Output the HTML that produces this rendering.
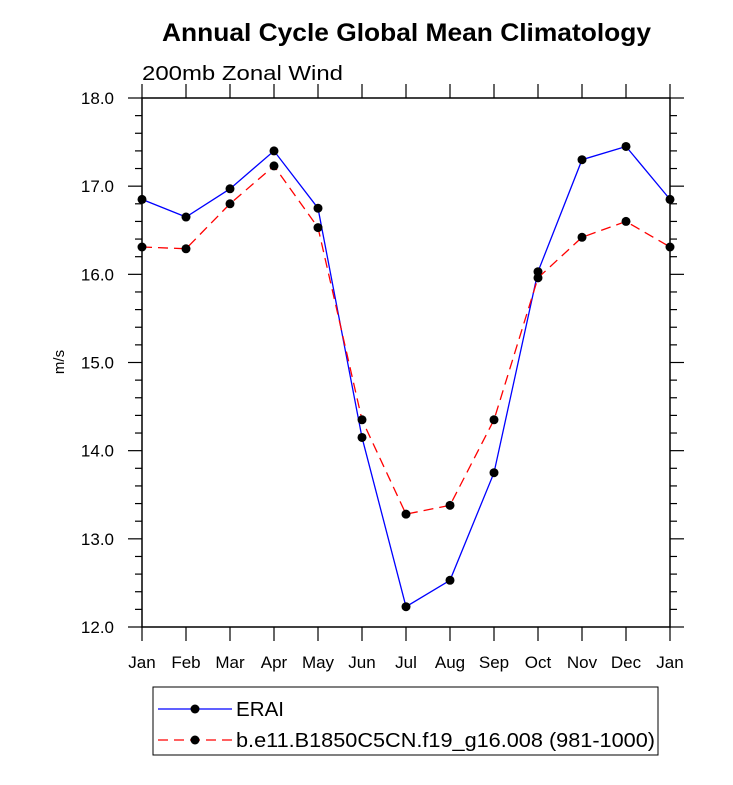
<!DOCTYPE html>
<html><head><meta charset="utf-8"><style>
body{margin:0;background:#fff;}
text{font-family:"Liberation Sans",sans-serif;}
</style></head><body>
<svg id="chart" width="733" height="780" xmlns="http://www.w3.org/2000/svg">
<text x="162" y="41" font-size="25" font-weight="bold" textLength="489" lengthAdjust="spacingAndGlyphs">Annual Cycle Global Mean Climatology</text>
<text x="142" y="80" font-size="20" textLength="201" lengthAdjust="spacingAndGlyphs">200mb Zonal Wind</text>
<text transform="translate(64,362) rotate(-90)" text-anchor="middle" font-size="15">m/s</text>
<g id="axes"></g>
<g id="series"></g>
<g>
<rect x="153" y="687" width="505" height="68" fill="none" stroke="#000" stroke-width="1"/>
<line x1="158" y1="709" x2="232" y2="709" stroke="#0000ff" stroke-width="1.3"/>
<circle cx="195" cy="709" r="4.5" fill="#000"/>
<text x="236" y="716" font-size="20" textLength="48" lengthAdjust="spacingAndGlyphs">ERAI</text>
<line x1="158" y1="740" x2="232" y2="740" stroke="#ff0000" stroke-width="1.3" stroke-dasharray="10,6"/>
<circle cx="195" cy="740" r="4.5" fill="#000"/>
<text x="236" y="747" font-size="20" textLength="419" lengthAdjust="spacingAndGlyphs">b.e11.B1850C5CN.f19_g16.008 (981-1000)</text>
</g>
</svg>
<script>
const months=["Jan","Feb","Mar","Apr","May","Jun","Jul","Aug","Sep","Oct","Nov","Dec","Jan"];
const erai=[16.85,16.65,16.97,17.40,16.75,14.15,12.23,12.53,13.75,16.03,17.30,17.45,16.85];
const model=[16.31,16.29,16.80,17.23,16.53,14.35,13.28,13.38,14.35,15.96,16.42,16.60,16.31];
const yTicks=[12,13,14,15,16,17,18];
const yTickLabels=["12.0","13.0","14.0","15.0","16.0","17.0","18.0"];
const L=142,R=670,T=98,B=627,ymin=12,ymax=18;
const xs=i=>L+(R-L)*i/(months.length-1);
const ys=v=>B-(v-ymin)/(ymax-ymin)*(B-T);
const NS="http://www.w3.org/2000/svg";
function mk(tag,attrs,parent){const e=document.createElementNS(NS,tag);for(const k in attrs)e.setAttribute(k,attrs[k]);parent.appendChild(e);return e;}
const ax=document.getElementById('axes');
const frame=mk('rect',{x:L,y:T,width:R-L,height:B-T,fill:'none',stroke:'#000','stroke-width':1.5},ax);


months.forEach((m,i)=>{
  const x=xs(i);
  mk('line',{x1:x,y1:B,x2:x,y2:B+14,stroke:'#000','stroke-width':1.2},ax);
  mk('line',{x1:x,y1:T,x2:x,y2:T-14,stroke:'#000','stroke-width':1.2},ax);
  const t=mk('text',{x:x,y:B+41,'text-anchor':'middle','font-size':17},ax);
  t.textContent=m;
  
  
});
for(let v=ymin;v<=ymax+1e-9;v+=0.2){
  const y=ys(v);const major=Math.abs(v-Math.round(v))<1e-6;const len=major?14:7;
  mk('line',{x1:L,y1:y,x2:L-len,y2:y,stroke:'#000','stroke-width':1.2},ax);
  mk('line',{x1:R,y1:y,x2:R+len,y2:y,stroke:'#000','stroke-width':1.2},ax);
}
yTicks.forEach((v,i)=>{
  const t=mk('text',{x:L-28,y:ys(v)+6,'text-anchor':'end','font-size':17},ax);
  t.textContent=yTickLabels[i];
  
  
});
const sg=document.getElementById('series');
function draw(vals,color,dash,name){
  const p=mk('polyline',{points:vals.map((v,i)=>xs(i)+','+ys(v)).join(' '),fill:'none',stroke:color,'stroke-width':1.3},sg);
  if(dash)p.setAttribute('stroke-dasharray',dash);
  
  
  vals.forEach((v,i)=>{
    const c=mk('circle',{cx:xs(i),cy:ys(v),r:4.5,fill:'#000'},sg);
    
    
  });
}
draw(erai,'#0000ff',null,'erai');
draw(model,'#ff0000','10,6','model');
</script>
</body></html>
